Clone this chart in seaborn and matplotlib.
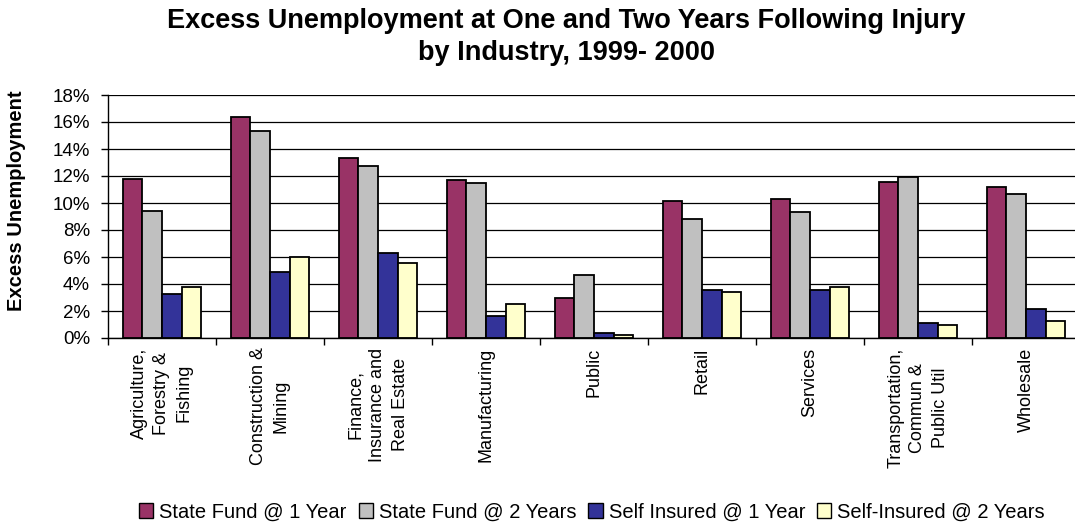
import matplotlib
matplotlib.use("Agg")
import matplotlib.pyplot as plt
import seaborn as sns
import pandas as pd
import numpy as np
from matplotlib.patches import Patch
from matplotlib.ticker import FuncFormatter, FixedLocator

categories = [
    "Agriculture,\nForestry &\nFishing",
    "Construction &\nMining",
    "Finance,\nInsurance and\nReal Estate",
    "Manufacturing",
    "Public",
    "Retail",
    "Services",
    "Transportation,\nCommun &\nPublic Util",
    "Wholesale",
]
series_names = ["State Fund @ 1 Year", "State Fund @ 2 Years",
                "Self Insured @ 1 Year", "Self-Insured @ 2 Years"]
state_fund_1yr = [11.8, 16.35, 13.35, 11.7, 3.0, 10.17, 10.32, 11.55, 11.18]
state_fund_2yr = [9.43, 15.37, 12.71, 11.45, 4.63, 8.79, 9.31, 11.95, 10.69]
self_ins_1yr = [3.25, 4.9, 6.3, 1.63, 0.34, 3.52, 3.52, 1.11, 2.14]
self_ins_2yr = [3.77, 6.03, 5.57, 2.49, 0.22, 3.4, 3.77, 0.99, 1.23]
yticks = [0, 2, 4, 6, 8, 10, 12, 14, 16, 18]
colors = ["#993366", "#C0C0C0", "#333399", "#FFFFCC"]

rows = []
for name, vals in zip(series_names, [state_fund_1yr, state_fund_2yr, self_ins_1yr, self_ins_2yr]):
    for c, v in zip(categories, vals):
        rows.append({"Industry": c, "Series": name, "Value": v})
df = pd.DataFrame(rows)

sns.set_theme(style="white")
plt.rcParams["font.family"] = ["Liberation Sans", "DejaVu Sans"]
plt.rcParams["text.color"] = "black"
plt.rcParams["axes.labelcolor"] = "black"
plt.rcParams["xtick.color"] = "black"
plt.rcParams["ytick.color"] = "black"

fig = plt.figure(figsize=(10.75, 5.22), dpi=100)
ax = fig.add_axes([108/1075, 1-338/522, (1080-108)/1075, (338-95)/522])

sns.barplot(data=df, x="Industry", y="Value", hue="Series", order=categories,
            hue_order=series_names, palette=colors, width=0.73,
            edgecolor="black", linewidth=1.3, ax=ax, legend=False, errorbar=None,
            saturation=1)

ax.set_ylim(0, 18)
ax.set_xlim(-0.5, len(categories) - 0.5)
ax.set_yticks(yticks)
ax.yaxis.set_major_formatter(FuncFormatter(lambda v, p: f"{int(v)}%"))
ax.grid(axis="y", color="black", linewidth=0.9)
ax.set_axisbelow(True)
for s in ["top", "right"]:
    ax.spines[s].set_visible(False)
for s in ["left", "bottom"]:
    ax.spines[s].set_color("black")
    ax.spines[s].set_linewidth(1.0)

ax.tick_params(axis="y", which="major", direction="out", length=5, width=1,
               color="black", labelsize=13.5, labelcolor="black", pad=8, left=True)
ax.set_xticks(range(len(categories)))
ax.set_xticklabels([])
ax.tick_params(axis="x", which="major", length=0)
ax.xaxis.set_minor_locator(FixedLocator(np.arange(-0.5, len(categories), 1.0)))
ax.tick_params(axis="x", which="minor", direction="out", length=5, width=1,
               color="black", bottom=True)

for i, c in enumerate(categories):
    ax.text(i, -0.7, c, rotation=90, ha="center", va="top", multialignment="center",
            fontsize=13, color="black", transform=ax.transData, linespacing=1.4)

ax.set_xlabel("")
ax.set_ylabel("")

fig.text(566/1075, 1-37/522, "Excess Unemployment at One and Two Years Following Injury\nby Industry, 1999- 2000",
         ha="center", va="center", fontsize=19.5, fontweight="bold", linespacing=1.3, color="black")
fig.text(17/1075, 1-201/522, "Excess Unemployment", rotation=90, ha="center", va="center",
         fontsize=14.5, fontweight="bold", color="black")

handles = [Patch(facecolor=col, edgecolor="black", linewidth=1.0) for col in colors]
fig.legend(handles, series_names, loc="center", bbox_to_anchor=(592/1075, 1-512/522),
           ncol=4, frameon=False, fontsize=14.5, handlelength=0.7, handleheight=0.7,
           handletextpad=0.3, columnspacing=0.6, borderaxespad=0)

fig.savefig("out.png", dpi=100)
